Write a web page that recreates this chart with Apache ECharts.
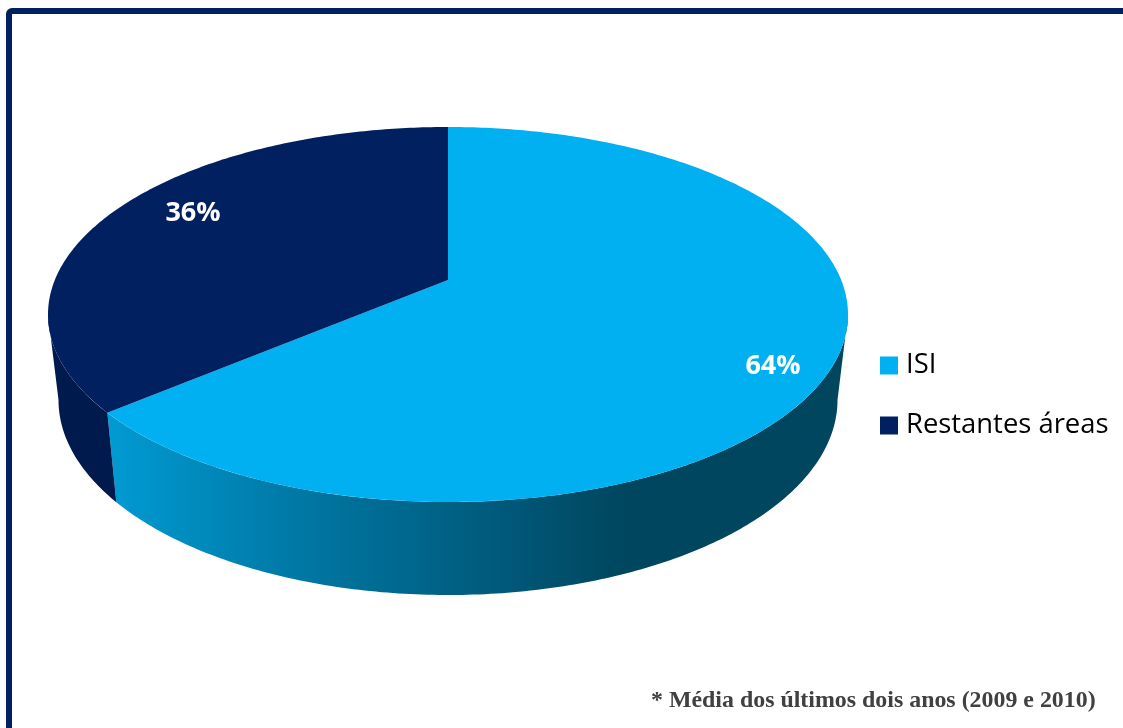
<!DOCTYPE html>
<html>
<head>
<meta charset="utf-8">
<style>html,body{margin:0;padding:0;background:#fff;overflow:hidden}#chart{width:1123px;height:728px}</style>
<script src="https://cdn.jsdelivr.net/npm/echarts@6/dist/echarts.min.js"></script>
</head>
<body>
<div id="chart"></div>
<script>
// Share of the total per area, in percent.
const areas = ['ISI', 'Restantes áreas'];
const shares = [64, 36];
const note = '* Média dos últimos dois anos (2009 e 2010)';

// Colours: flat top face and the shading of the side wall.
const navy = '#002060';
const topColors = ['#00B0F0', navy];
const wallFills = [
  { type: 'linear', x: 0, y: 0, x2: 1, y2: 0, colorStops: [
    { offset: 0, color: '#009BD3' },
    { offset: 0.25, color: '#0079A6' },
    { offset: 0.7, color: '#00465F' },
    { offset: 1, color: '#00465F' }
  ] },
  '#001A4E'
];

// Perspective of the disc: outlines of the top and bottom rims, how far the
// tilt shifts angles along the rim, and where the slices meet on the top face.
const topRim = { cx: 448, cy: 314.5, rx: 400, ry: 187.5 };
const bottomRim = { cx: 448, cy: 400, rx: 389.5, ry: 195 };
const tilt = 0.17;
const hub = [448, 280];
const labelSpots = [[773, 366], [193, 213.5]];

// Angle is measured clockwise from twelve o'clock on the untilted disc.
function onRim(rim, angle) {
  const x = Math.sin(angle), y = -Math.cos(angle);
  const d = 1 - tilt * y;
  return [
    rim.cx + rim.rx * x * Math.sqrt(1 - tilt * tilt) / d,
    rim.cy + rim.ry * (y - tilt) / d
  ];
}
function arc(rim, from, to) {
  const steps = Math.max(2, Math.ceil(Math.abs(to - from) * 80));
  const pts = [];
  for (let i = 0; i <= steps; i++) pts.push(onRim(rim, from + (to - from) * i / steps));
  return pts;
}

const total = shares.reduce((a, b) => a + b, 0);
// The wall is visible only on the front half, between the two widest points.
const wallStart = Math.acos(-tilt);
const wallEnd = 2 * Math.PI - wallStart;

function slice(index) {
  const before = shares.slice(0, index).reduce((a, b) => a + b, 0);
  return function (params, api) {
    const from = before / total * 2 * Math.PI;
    const to = from + api.value(0) / total * 2 * Math.PI;
    const a = Math.max(from, wallStart), b = Math.min(to, wallEnd);
    const children = [];
    if (b > a) {
      children.push({
        type: 'polygon',
        shape: { points: arc(topRim, a, b).concat(arc(bottomRim, b, a)) },
        style: { fill: wallFills[index] }
      });
    }
    children.push({
      type: 'polygon',
      shape: { points: [hub].concat(arc(topRim, from, to)) },
      style: { fill: topColors[index] }
    });
    children.push({
      type: 'text',
      z2: 10,
      style: {
        x: labelSpots[index][0], y: labelSpots[index][1],
        text: api.value(0) + '%',
        align: 'center', verticalAlign: 'middle',
        fill: '#fff', font: 'bold 27px "Open Sans"'
      }
    });
    return { type: 'group', children };
  };
}

const chart = echarts.init(document.getElementById('chart'), null, { renderer: 'canvas' });
chart.setOption({
  animation: false,
  backgroundColor: '#fff',
  legend: {
    orient: 'vertical',
    left: 880,
    top: 352,
    padding: 0,
    icon: 'rect',
    itemWidth: 18,
    itemHeight: 18,
    itemGap: 33,
    data: areas,
    selectedMode: false,
    textStyle: { fontFamily: 'Open Sans', fontSize: 27.4, lineHeight: 18, color: '#000', padding: [0, 0, 0, 3] }
  },
  graphic: [
    {
      type: 'rect',
      shape: { x: 9, y: 11, width: 1300, height: 1000, r: 3 },
      style: { fill: 'none', stroke: navy, lineWidth: 6 },
      silent: true
    },
    {
      type: 'text',
      left: 651,
      top: 689,
      style: { text: note, fill: '#404040', font: 'bold 23.9px "Liberation Serif"' }
    }
  ],
  series: areas.map((name, i) => ({
    type: 'custom',
    name,
    coordinateSystem: 'none',
    itemStyle: { color: topColors[i] },
    data: [[shares[i]]],
    renderItem: slice(i)
  }))
});
</script>
</body>
</html>
